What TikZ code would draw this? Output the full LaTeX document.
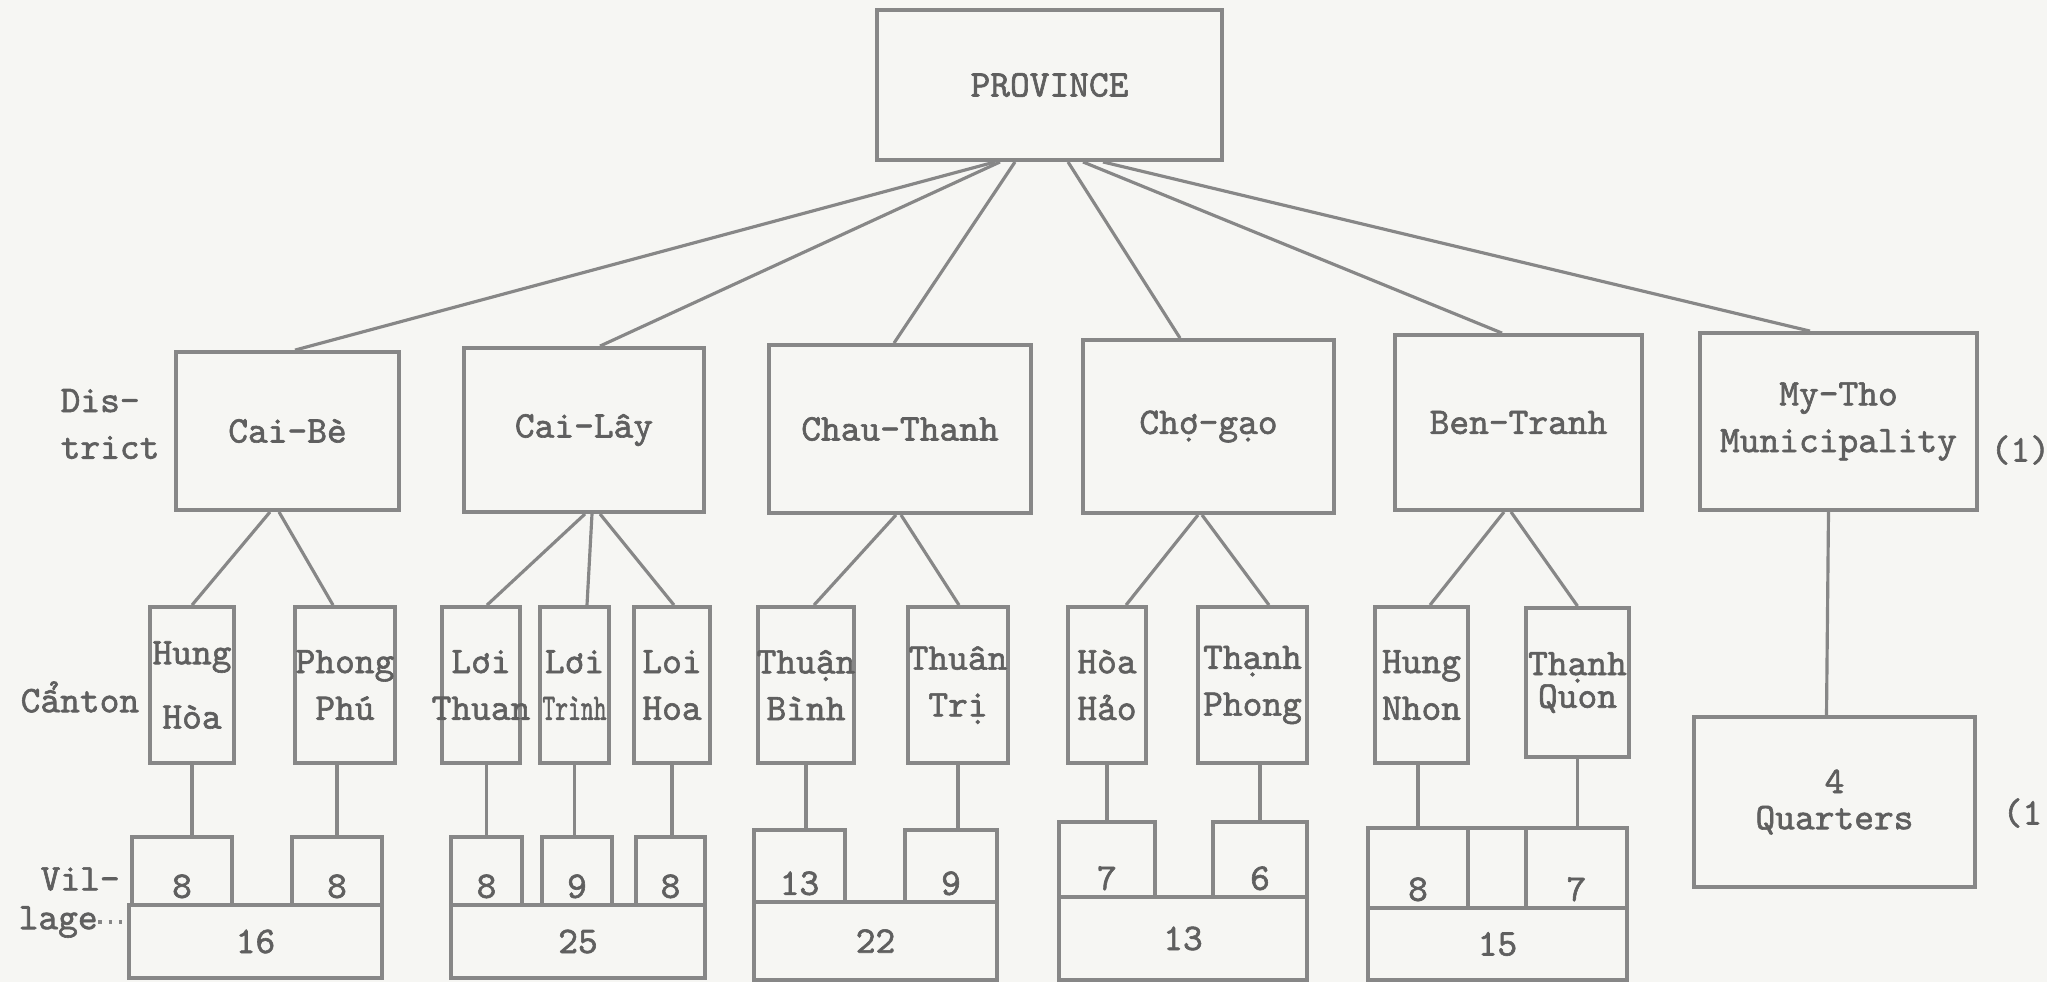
\documentclass[tikz,border=0pt]{standalone}
\usepackage{fontspec}
\newfontfamily\typew{Latin Modern Mono}[FakeBold=1.6]
\usetikzlibrary{positioning,calc}
\usepackage{xcolor}
\definecolor{paper}{RGB}{246,246,243}
\definecolor{rule}{RGB}{135,135,135}
\definecolor{ink}{RGB}{95,95,95}

\begin{document}
\begin{tikzpicture}[x=0.1mm,y=-0.1mm,
  every node/.style={font=\typew\fontsize{10.7}{13.3}\selectfont,text=ink},
  box/.style={draw=rule,line width=1.1pt,inner sep=0pt,align=center},
  wh/.style 2 args={minimum width=#1mm,minimum height=#2mm},
  num/.style={inner sep=0pt},
  link/.style={draw=rule,line width=0.9pt}]
\fill[paper] (0,0) rectangle (2047,982);
\useasboundingbox (0,0) rectangle (2047,982);

\node[box,wh={34.5}{15}] (prov) at (1049.5,85) {PROVINCE};

\node[box,wh={22.3}{15.8}] (caibe) at (287.5,431) {Cai-Bè};
\node[box,wh={24}{16.4}] (cailay) at (584,430) {Cai-Lây};
\node[box,wh={26.2}{16.8}] (chauthanh) at (900,429) {Chau-Thanh};
\node[box,wh={25.1}{17.3}] (chogao) at (1208.5,426.5) {Chợ-gạo};
\node[box,wh={24.7}{17.5}] (bentranh) at (1518.5,422.5) {Ben-Tranh};
\node[box,wh={27.7}{17.7}] (mytho) at (1838.5,421.5) {My-Tho\\Municipality};

\node[box,wh={8.4}{15.6}] (hunghoa) at (192,685) {Hung\\[5pt]Hòa};
\node[box,wh={10}{15.6}] (phongphu) at (345,685) {Phong\\Phú};
\node[box,wh={7.8}{15.6}] (loithuan) at (481,685) {Lơi\\\makebox[0pt]{Thuan}};
\node[box,wh={6.9}{15.6}] (loitrinh) at (574.5,685) {Lơi\\\makebox[0pt]{\scalebox{0.65}[1]{Trình}}};
\node[box,wh={7.6}{15.6}] (loihoa) at (672,685) {Loi\\Hoa};
\node[box,wh={9.6}{15.6}] (thuanbinh) at (806,685) {\makebox[0pt]{Thuận}\\Bình};
\node[box,wh={10}{15.6}] (thuantri) at (958,685) {Thuân\\Trị};
\node[box,wh={7.8}{15.6}] (hoahao) at (1107,685) {Hòa\\Hảo};
\node[box,wh={10.9}{15.6}] (thanhphong) at (1252.5,685) {Thạnh\\Phong};
\node[box,wh={9.3}{15.6}] (hungnhon) at (1421.5,685) {Hung\\Nhon};
\node[box,wh={10.3}{14.9}] (thanhquon) at (1577.5,682.5) {Thạnh\\[-4pt]Quon};

\node[box,wh={25.3}{7.3}] (v1) at (255.5,941.5) {16};
\node[box,wh={10}{6.8}] (a1) at (182,871) {};
\node[box,wh={9}{6.8}] (a2) at (337,871) {};
\node[box,wh={25.4}{7.3}] (v2) at (578,941.5) {25};
\node[box,wh={7.1}{6.8}] (b1) at (486.5,871) {};
\node[box,wh={7}{6.8}] (b2) at (577,871) {};
\node[box,wh={6.9}{6.8}] (b3) at (670.5,871) {};
\node[box,wh={24.3}{7.8}] (v3) at (875.5,941) {22};
\node[box,wh={9.1}{7.2}] (c1) at (799.5,866) {};
\node[box,wh={9.2}{7.2}] (c2) at (951,866) {};
\node[box,wh={24.8}{8.3}] (v4) at (1183,938.5) {13};
\node[box,wh={9.6}{7.5}] (d1) at (1107,859.5) {};
\node[box,wh={9.4}{7.5}] (d2) at (1260,859.5) {};
\node[box,wh={25.9}{7.2}] (v5) at (1497.5,944) {15};
\node[box,wh={10}{8}] (e1) at (1418,868) {};
\node[box,wh={5.8}{8}] (e2) at (1497,868) {};
\node[box,wh={10.1}{8}] (e3) at (1576.5,868) {};
\node[box,wh={28.1}{17}] (quarters) at (1834.5,802) {4\\[-3pt]Quarters};

\node[num,above=0.8mm of a1.south] {8};
\node[num,above=0.8mm of a2.south] {8};
\node[num,above=0.8mm of b1.south] {8};
\node[num,above=0.8mm of b2.south] {9};
\node[num,above=0.8mm of b3.south] {8};
\node[num,above=0.8mm of c1.south] {13};
\node[num,above=0.8mm of c2.south] {9};
\node[num,above=0.8mm of d1.south] {7};
\node[num,above=0.8mm of d2.south] {6};
\node[num,above=0.8mm of e1.south] {8};
\node[num,above=0.8mm of e3.south] {7};

\node[anchor=west,align=left,inner sep=0pt] (district) at (60,424) {Dis-\\trict};
\node[anchor=west,inner sep=0pt] (canton) at (20,697) {Cẩnton};
\node[anchor=west,inner sep=0pt] (vil) at (40,879) {Vil-};
\node[anchor=west,inner sep=0pt] (lage) at (18,922) {lage};
\node[anchor=west,inner sep=0pt] (note1) at (1990,450) {(1)};
\node[anchor=west,inner sep=0pt] (note2) at (2002,813) {(1};

\draw[link] ($(prov.south)+(-54.5,0)$) -- ($(caibe.north)+(7.5,0)$);
\draw[link] ($(prov.south)+(-49.5,0)$) -- ($(cailay.north)+(16,0)$);
\draw[link] ($(prov.south)+(-34.5,0)$) -- ($(chauthanh.north)+(-6,0)$);
\draw[link] ($(prov.south)+(18.5,0)$) -- ($(chogao.north)+(-28.5,0)$);
\draw[link] ($(prov.south)+(33.5,0)$) -- ($(bentranh.north)+(-16.5,0)$);
\draw[link] ($(prov.south)+(53.5,0)$) -- ($(mytho.north)+(-28.5,0)$);

\draw[link] ($(caibe.south)+(-17.5,0)$) -- (hunghoa.north);
\draw[link] ($(caibe.south)+(-8.5,0)$) -- ($(phongphu.north)+(-12,0)$);
\draw[link] ($(cailay.south)+(1,0)$) -- ($(loithuan.north)+(6,0)$);
\draw[link] ($(cailay.south)+(8,0)$) -- ($(loitrinh.north)+(12.5,0)$);
\draw[link] ($(cailay.south)+(16,0)$) -- ($(loihoa.north)+(2,0)$);
\draw[link] ($(chauthanh.south)+(-4,0)$) -- ($(thuanbinh.north)+(8,0)$);
\draw[link] ($(chauthanh.south)+(1,0)$) -- ($(thuantri.north)+(1,0)$);
\draw[link] ($(chogao.south)+(-10.5,0)$) -- ($(hoahao.north)+(19,0)$);
\draw[link] ($(chogao.south)+(-6.5,0)$) -- ($(thanhphong.north)+(16.5,0)$);
\draw[link] ($(bentranh.south)+(-14.5,0)$) -- ($(hungnhon.north)+(8.5,0)$);
\draw[link] ($(bentranh.south)+(-7.5,0)$) -- (thanhquon.north);
\draw[link] ($(mytho.south)+(-10,0)$) -- ($(quarters.north)+(-8,0)$);

\draw[link] (hunghoa.south) -- (hunghoa.south |- a1.north);
\draw[link] (a2.north) -- (a2.north |- phongphu.south);
\draw[link] (b1.north) -- (b1.north |- loithuan.south);
\draw[link] (loitrinh.south) -- (loitrinh.south |- b2.north);
\draw[link] (loihoa.south) -- (loihoa.south |- b3.north);
\draw[link] (thuanbinh.south) -- (thuanbinh.south |- c1.north);
\draw[link] (thuantri.south) -- (thuantri.south |- c2.north);
\draw[link] (d1.north) -- (d1.north |- hoahao.south);
\draw[link] (d2.north) -- (d2.north |- thanhphong.south);
\draw[link] (e1.north) -- (e1.north |- hungnhon.south);
\draw[link] (thanhquon.south) -- (thanhquon.south |- e3.north);

\draw[link,dotted] (lage.east) -- (lage.east -| v1.west);
\end{tikzpicture}
\end{document}
